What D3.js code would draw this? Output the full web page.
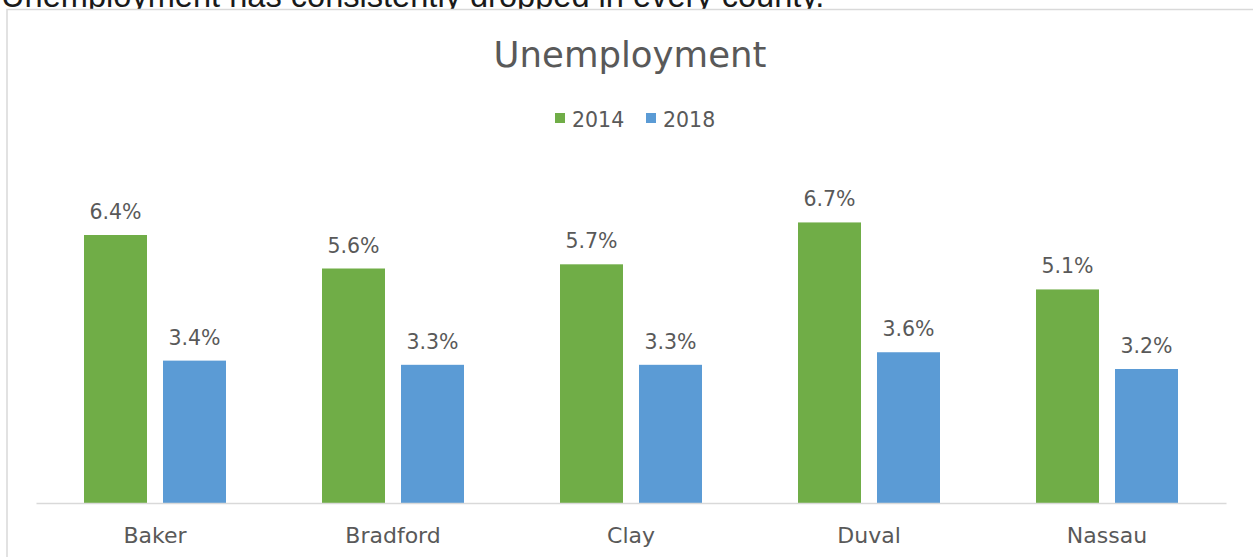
<!DOCTYPE html>
<html>
<head>
<meta charset="utf-8">
<script src="https://cdn.jsdelivr.net/npm/d3@7"></script>
<style>
  body { margin: 0; background: #fff; overflow: hidden; }
  text { font-family: "DejaVu Sans", sans-serif; fill: #595959; }
</style>
</head>
<body>
<div class="chart"></div>
<script>
// data
const categories = ["Baker", "Bradford", "Clay", "Duval", "Nassau"];
const seriesNames = ["2014", "2018"];
const values2014 = [6.4, 5.6, 5.7, 6.7, 5.1];
const values2018 = [3.4, 3.3, 3.3, 3.6, 3.2];
const colors = ["#70ad47", "#5b9bd5"];

const width = 1253, height = 557;
const plot = { left: 36, right: 1226, top: 168, bottom: 503 };

const svg = d3.select(".chart").append("svg")
    .attr("width", width)
    .attr("height", height);

// caption above the chart, partly hidden behind the chart box (as in the source)
svg.append("text")
    .attr("x", 1)
    .attr("y", 7)
    .style("font-family", "'Liberation Sans', Arial, sans-serif")
    .style("font-size", "32.6px")
    .style("fill", "#1a1a1a")
    .text("Unemployment has consistently dropped in every county.");

// chart box
svg.append("rect")
    .attr("x", 7)
    .attr("y", 9.5)
    .attr("width", 1300)
    .attr("height", 600)
    .attr("fill", "#fff")
    .attr("stroke", "#d9d9d9")
    .attr("stroke-width", 1.5);

svg.append("text")
    .attr("x", 630)
    .attr("y", 67)
    .attr("text-anchor", "middle")
    .style("font-size", "35.5px")
    .text("Unemployment");

// legend
const legendX = [555, 646];
const legend = svg.selectAll(".legend")
    .data(seriesNames)
    .join("g")
    .attr("class", "legend")
    .attr("transform", (d, i) => `translate(${legendX[i]}, 113)`);

legend.append("rect")
    .attr("width", 10)
    .attr("height", 10)
    .attr("fill", (d, i) => colors[i]);

legend.append("text")
    .attr("x", 17)
    .attr("y", 13.5)
    .style("font-size", "20.5px")
    .text(d => d);

// scales
const x0 = d3.scaleBand()
    .domain(categories)
    .range([plot.left, plot.right]);

const x1 = d3.scaleBand()
    .domain(seriesNames)
    .range([0, x0.bandwidth()])
    .paddingInner(0.2025)
    .paddingOuter(0.6076);

const y = d3.scaleLinear()
    .domain([0, 8])
    .range([plot.bottom, plot.top]);

const rows = categories.map((c, i) => ({
    category: c,
    values: [
        { series: seriesNames[0], value: values2014[i], color: colors[0] },
        { series: seriesNames[1], value: values2018[i], color: colors[1] }
    ]
}));

const groups = svg.selectAll(".group")
    .data(rows)
    .join("g")
    .attr("class", "group")
    .attr("transform", d => `translate(${x0(d.category)}, 0)`);

groups.selectAll("rect")
    .data(d => d.values)
    .join("rect")
    .attr("x", d => x1(d.series))
    .attr("y", d => y(d.value))
    .attr("width", x1.bandwidth())
    .attr("height", d => y(0) - y(d.value))
    .attr("fill", d => d.color);

groups.selectAll(".label")
    .data(d => d.values)
    .join("text")
    .attr("class", "label")
    .attr("x", d => x1(d.series) + x1.bandwidth() / 2)
    .attr("y", d => y(d.value) - 16)
    .attr("text-anchor", "middle")
    .style("font-size", "20.5px")
    .text(d => d.value.toFixed(1) + "%");

// category axis
const xAxis = d3.axisBottom(x0).tickSize(0).tickPadding(0);
const axisG = svg.append("g")
    .attr("transform", `translate(0, ${plot.bottom})`)
    .call(xAxis);

axisG.select(".domain")
    .attr("stroke", "#d9d9d9")
    .attr("stroke-width", 1.5);

axisG.selectAll(".tick text")
    .attr("dy", 0)
    .attr("y", 40)
    .style("font-size", "22px")
    .style("font-family", "'DejaVu Sans', sans-serif")
    .style("fill", "#595959");
</script>
</body>
</html>
